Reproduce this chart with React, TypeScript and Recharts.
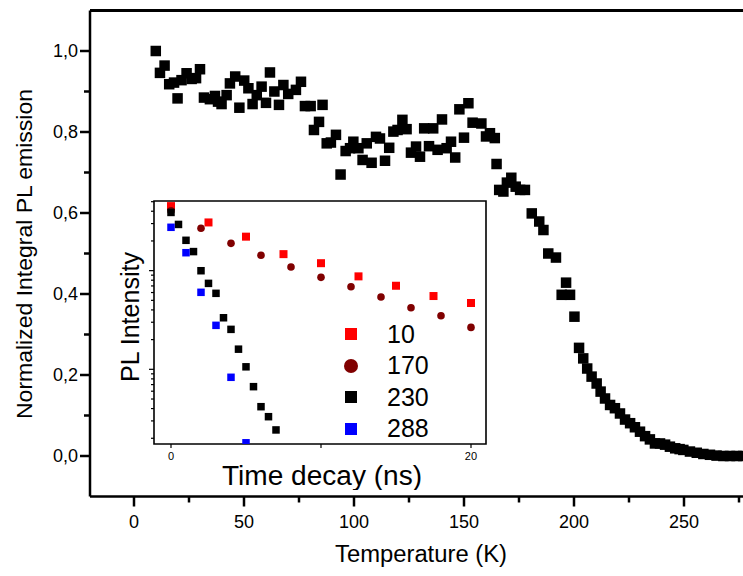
import React from 'react';
import { ScatterChart, Scatter, XAxis, YAxis, ReferenceLine, ReferenceArea, Legend, Label } from 'recharts';

const FONT = '"Liberation Sans", Arial, Helvetica, sans-serif';

// ---- Main chart data: temperature (K) vs normalized integral PL emission ----
const mainTemps = [
  9.9, 11.8, 13.9, 16.0, 18.2, 19.8, 21.6, 23.9, 26.2, 28.2, 30.0, 31.8, 34.5, 36.8, 38.2, 39.8,
  42.1, 43.6, 46.0, 47.9, 50.1, 52.0, 53.9, 55.8, 58.0, 60.0, 61.8, 63.8, 65.9, 67.9, 70.1, 73.6,
  75.9, 77.7, 80.3, 81.8, 84.1, 85.7, 87.6, 89.5, 91.8, 93.9, 96.2, 98.2, 99.7, 102.0, 103.9,
  105.8, 108.0, 110.0, 111.8, 114.1, 116.0, 117.9, 119.8, 122.0, 123.9, 125.9, 128.2, 130.0,
  131.9, 134.1, 136.0, 138.0, 140.0, 142.1, 144.1, 146.0, 147.9, 150.0, 152.0, 153.9, 157.9,
  160.0, 161.8, 164.0, 164.8, 166.0, 167.9, 169.5, 171.5, 173.5, 175.5, 177.7, 180.8, 184.2,
  186.1, 188.3, 191.8, 194.4, 196.4, 198.2, 200.2, 202.3, 204.2, 206.0, 208.0, 210.3, 212.1,
  214.1, 216.4, 218.6, 220.9, 223.2, 225.5, 227.7, 230.0, 232.3, 234.5, 236.8, 239.1, 241.4,
  243.6, 246.0, 248.0, 249.7, 252.7, 255.8, 258.8, 261.8, 264.8, 267.9, 270.9, 273.9, 276.9,
];
const mainValues = [
  1.0, 0.946, 0.964, 0.918, 0.922, 0.883, 0.928, 0.945, 0.931, 0.933, 0.955, 0.885, 0.881, 0.889, 0.875, 0.869,
  0.891, 0.92, 0.937, 0.86, 0.927, 0.908, 0.869, 0.891, 0.912, 0.872, 0.947, 0.9, 0.867, 0.916, 0.894, 0.904,
  0.924, 0.864, 0.864, 0.805, 0.825, 0.867, 0.772, 0.774, 0.793, 0.695, 0.753, 0.76, 0.776, 0.76, 0.731,
  0.772, 0.724, 0.788, 0.784, 0.729, 0.761, 0.801, 0.805, 0.83, 0.807, 0.749, 0.764, 0.739,
  0.809, 0.765, 0.809, 0.756, 0.831, 0.76, 0.776, 0.737, 0.856, 0.786, 0.871, 0.823, 0.821,
  0.789, 0.797, 0.785, 0.721, 0.657, 0.653, 0.675, 0.687, 0.665, 0.657, 0.657, 0.599, 0.579,
  0.558, 0.5, 0.49, 0.398, 0.428, 0.398, 0.344, 0.267, 0.241, 0.216, 0.196, 0.179, 0.159,
  0.142, 0.126, 0.118, 0.105, 0.09, 0.081, 0.071, 0.06, 0.049, 0.041, 0.031, 0.031, 0.028,
  0.023, 0.019, 0.017, 0.015, 0.011, 0.008, 0.005, 0.003, 0.001, 0.0, 0.0, 0.0, 0.0,
];
const xTicks = [0, 25, 50, 75, 100, 125, 150, 175, 200, 225, 250, 275];
const xMajorStep = 50;
const yTicks = [0, 0.1, 0.2, 0.3, 0.4, 0.5, 0.6, 0.7, 0.8, 0.9, 1.0];
const yMajorTicks = [0, 0.2, 0.4, 0.6, 0.8, 1.0];

// ---- Inset data: PL decay (time ns vs intensity, log) ----
const t10 = [0, 2.5, 5, 7.5, 10, 12.5, 15, 17.5, 20];
const i10 = [45.1, 30.8, 22.1, 14.7, 11.9, 8.75, 7.03, 5.53, 4.7];
const t170 = [0, 2, 4, 6, 8, 10, 12, 14, 16, 18, 20];
const i170 = [40.5, 26.9, 18.9, 14.3, 10.9, 8.55, 6.87, 5.41, 4.21, 3.49, 2.66];
const t230 = [0, 0.5, 1, 1.5, 2, 2.5, 3, 3.5, 4, 4.5, 5, 5.5, 6, 6.5, 7];
const i230 = [38.9, 29.4, 20.3, 15.6, 9.98, 7.43, 5.89, 3.33, 2.54, 1.6, 1.06, 0.667, 0.418, 0.331, 0.243];
const t288 = [0, 1, 2, 3, 4, 5];
const i288 = [27.5, 15.2, 6.03, 2.79, 0.83, 0.18];
const insetXTicks = [0, 10, 20];
const insetXLabels = [0, 20];
const insetYTicks = [0.2, 0.3, 0.4, 0.5, 0.6, 0.7, 0.8, 0.9, 1, 2, 3, 4, 5, 6, 7, 8, 9, 10, 20, 30, 40, 50];
const insetYMajor = [1, 10];
const legendLabels = ['10', '170', '230', '288'];
const legendColors = ['#ff0000', '#800000', '#000000', '#0000ff'];
const legendShapes = ['square', 'circle', 'square', 'square'];

const mainData = mainTemps.map((t, i) => ({ t, v: mainValues[i] }));
const mk = (ts: number[], is: number[]) => ts.map((t, k) => ({ t, i: is[k] }));
const d10 = mk(t10, i10);
const d170 = mk(t170, i170);
const d230 = mk(t230, i230);
const d288 = mk(t288, i288);

const MainXTick = (props: any) => {
  const { x, y, payload } = props;
  const v = payload.value;
  const major = v % xMajorStep === 0;
  return (
    <g>
      <line x1={x} x2={x} y1={y} y2={y + (major ? 10 : 6)} stroke="#000" strokeWidth={2.5} />
      {major && (
        <text x={x} y={y + 31} textAnchor="middle" fontSize={18} fontFamily={FONT} fill="#000">
          {v}
        </text>
      )}
    </g>
  );
};

const MainYTick = (props: any) => {
  const { x, y, payload } = props;
  const v = payload.value;
  const major = yMajorTicks.some((m) => Math.abs(m - v) < 1e-6);
  return (
    <g>
      <line x1={x} x2={x - (major ? 10 : 6)} y1={y} y2={y} stroke="#000" strokeWidth={2.5} />
      {major && (
        <text x={x - 12} y={y} dy="0.36em" textAnchor="end" fontSize={18} fontFamily={FONT} fill="#000">
          {v.toFixed(1).replace('.', ',')}
        </text>
      )}
    </g>
  );
};

const InsetXTick = (props: any) => {
  const { x, y, payload } = props;
  const v = payload.value;
  return (
    <g>
      <line x1={x} x2={x} y1={y} y2={y + 4} stroke="#000" strokeWidth={1.2} />
      {insetXLabels.includes(v) && (
        <text x={x} y={y + 16} textAnchor="middle" fontSize={11} fontFamily={FONT} fill="#000">
          {v}
        </text>
      )}
    </g>
  );
};

const InsetYTick = (props: any) => {
  const { x, y, payload } = props;
  const major = insetYMajor.includes(payload.value);
  return <line x1={x} x2={x - (major ? 5 : 3)} y1={y} y2={y} stroke="#000" strokeWidth={1.2} />;
};

const squareShape = (size: number, color: string) => (p: any) => (
  <rect x={p.cx - size / 2} y={p.cy - size / 2} width={size} height={size} fill={color} />
);
const circleShape = (r: number, color: string) => (p: any) => <circle cx={p.cx} cy={p.cy} r={r} fill={color} />;

const LegendContent = () => (
  <div style={{ fontFamily: FONT }}>
    {legendLabels.map((lab, k) => (
      <div key={lab} style={{ display: 'flex', alignItems: 'center', height: 31.5 }}>
        <svg width={14} height={14} style={{ display: 'block' }}>
          {legendShapes[k] === 'circle' ? (
            <circle cx={7} cy={7} r={7} fill={legendColors[k]} />
          ) : (
            <rect x={1} y={1} width={12} height={12} fill={legendColors[k]} />
          )}
        </svg>
        <span style={{ marginLeft: 29, fontSize: 25, lineHeight: '31.5px', color: '#000' }}>{lab}</span>
      </div>
    ))}
  </div>
);

export default function App() {
  return (
    <div style={{ position: 'absolute', left: 0, top: 0, width: 743, height: 576, overflow: 'hidden', background: '#fff' }}>
      <div style={{ position: 'absolute', left: 0, top: 0 }}>
        <ScatterChart width={760} height={576} margin={{ top: 10.5, right: 10, bottom: 0, left: 0 }}>
          <XAxis
            type="number"
            dataKey="t"
            domain={[-20, 280]}
            ticks={xTicks}
            allowDataOverflow
            height={79.5}
            tickSize={0}
            tickMargin={0}
            tick={<MainXTick />}
            tickLine={false}
            axisLine={{ stroke: '#000', strokeWidth: 2.5 }}
            interval={0}
          >
            <Label
              content={() => (
                <text x={421} y={562} textAnchor="middle" fontSize={23} fontFamily={FONT} fill="#000" textLength={172} lengthAdjust="spacingAndGlyphs">
                  Temperature (K)
                </text>
              )}
            />
          </XAxis>
          <YAxis
            type="number"
            dataKey="v"
            domain={[-0.1, 1.1]}
            ticks={yTicks}
            allowDataOverflow
            width={90}
            tickSize={0}
            tickMargin={0}
            tick={<MainYTick />}
            tickLine={false}
            axisLine={{ stroke: '#000', strokeWidth: 2.5 }}
            interval={0}
          >
            <Label
              content={() => (
                <text
                  x={32}
                  y={254}
                  transform="rotate(-90 32 254)"
                  textAnchor="middle"
                  fontSize={22.5}
                  fontFamily={FONT}
                  fill="#000"
                  textLength={330}
                  lengthAdjust="spacingAndGlyphs"
                >
                  Normalized Integral PL emission
                </text>
              )}
            />
          </YAxis>
          <ReferenceLine y={1.1} stroke="#000" strokeWidth={3} ifOverflow="visible" />
          <Scatter data={mainData} shape={squareShape(10.5, '#000')} isAnimationActive={false} />
        </ScatterChart>
      </div>
      <div style={{ position: 'absolute', left: 100, top: 190 }}>
        <ScatterChart width={400} height={300} margin={{ top: 11, right: 14, bottom: 0, left: 0 }}>
          <XAxis
            type="number"
            dataKey="t"
            domain={[-1.133, 21]}
            ticks={insetXTicks}
            allowDataOverflow
            height={46}
            tickSize={0}
            tickMargin={0}
            tick={<InsetXTick />}
            tickLine={false}
            axisLine={false}
            interval={0}
          >
            <Label
              content={() => (
                <text x={222} y={295} textAnchor="middle" fontSize={27} fontFamily={FONT} fill="#000" textLength={200} lengthAdjust="spacingAndGlyphs">
                  Time decay (ns)
                </text>
              )}
            />
          </XAxis>
          <YAxis
            type="number"
            dataKey="i"
            scale="log"
            domain={[0.175, 50.8]}
            ticks={insetYTicks}
            allowDataOverflow
            width={54}
            tickSize={0}
            tickMargin={0}
            tick={<InsetYTick />}
            tickLine={false}
            axisLine={false}
            interval={0}
          >
            <Label
              content={() => (
                <text
                  x={39}
                  y={127}
                  transform="rotate(-90 39 127)"
                  textAnchor="middle"
                  fontSize={25}
                  fontFamily={FONT}
                  fill="#000"
                  textLength={130}
                  lengthAdjust="spacingAndGlyphs"
                >
                  PL Intensity
                </text>
              )}
            />
          </YAxis>
          <ReferenceArea x1={-1.133} x2={21} y1={0.175} y2={50.8} fill="none" stroke="#000" strokeWidth={1.6} ifOverflow="visible" />
          <Scatter name="10" data={d10} shape={squareShape(8, '#ff0000')} isAnimationActive={false} />
          <Scatter name="170" data={d170} shape={circleShape(3.8, '#800000')} isAnimationActive={false} />
          <Scatter name="230" data={d230} shape={squareShape(7.5, '#000000')} isAnimationActive={false} />
          <Scatter name="288" data={d288} shape={squareShape(7.5, '#0000ff')} isAnimationActive={false} />
          <Legend
            layout="horizontal"
            verticalAlign="middle"
            align="center"
            content={<LegendContent />}
            wrapperStyle={{ left: 244, top: 128.5, width: 140, height: 126 }}
          />
        </ScatterChart>
      </div>
    </div>
  );
}
